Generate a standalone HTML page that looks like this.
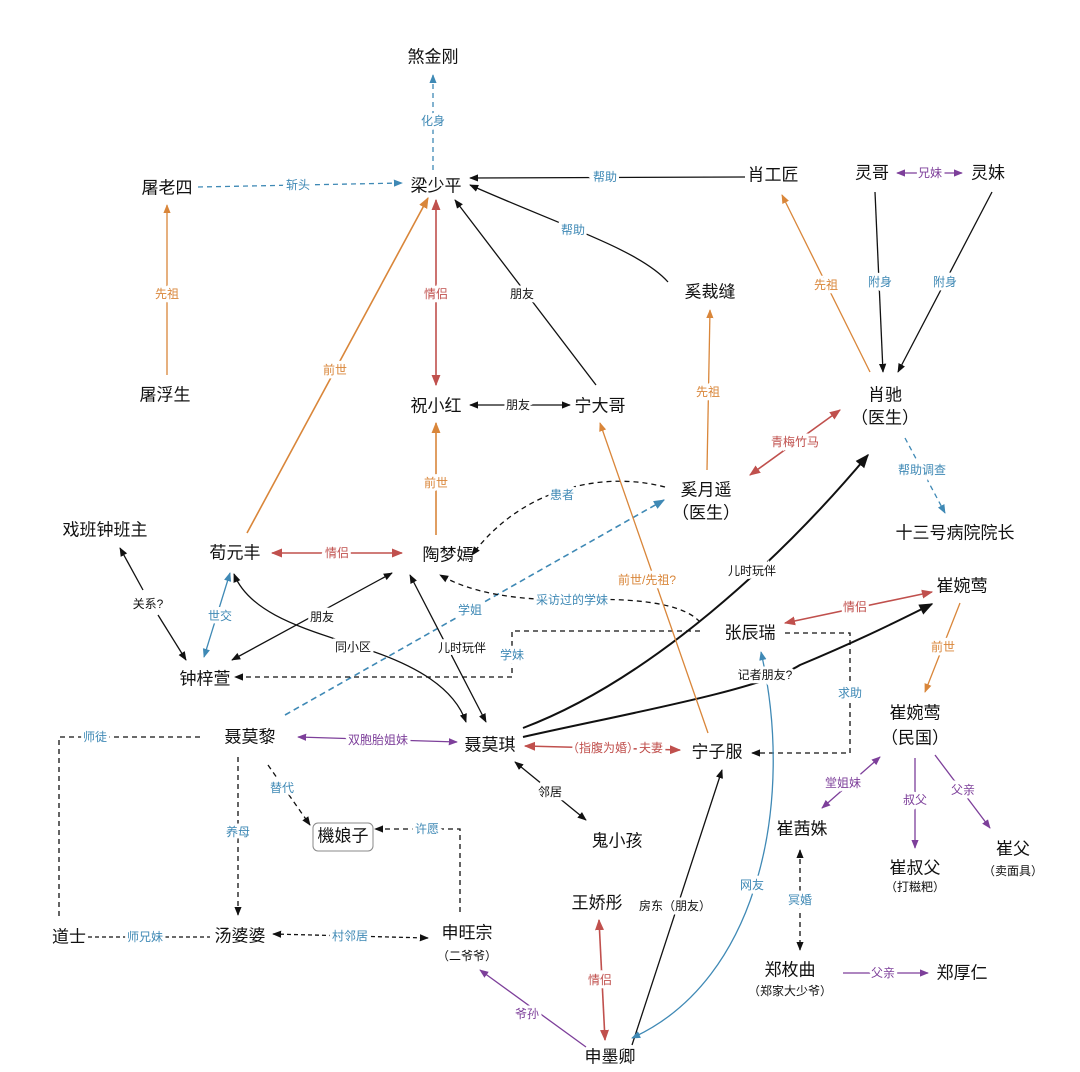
<!DOCTYPE html>
<html><head><meta charset="utf-8"><style>
html,body{margin:0;padding:0;background:#fff;}
svg{display:block;}
text{font-family:"Liberation Sans","Noto Sans CJK SC",sans-serif;}
.n{font-size:17px;fill:#111;text-anchor:middle;dominant-baseline:central;}
.s{font-size:12px;fill:#111;text-anchor:middle;dominant-baseline:central;}
.l{font-size:12px;text-anchor:middle;dominant-baseline:central;}
</style></head><body>
<svg width="1080" height="1072" viewBox="0 0 1080 1072" xmlns="http://www.w3.org/2000/svg">
<defs>
<marker id="k" viewBox="0 0 10 10" refX="9" refY="5" markerWidth="7" markerHeight="7" orient="auto-start-reverse"><path d="M0,1 L10,5 L0,9 z" fill="#111"/></marker>
<marker id="o" viewBox="0 0 10 10" refX="9" refY="5" markerWidth="7" markerHeight="7" orient="auto-start-reverse"><path d="M0,1 L10,5 L0,9 z" fill="#d9863a"/></marker>
<marker id="r" viewBox="0 0 10 10" refX="9" refY="5" markerWidth="7" markerHeight="7" orient="auto-start-reverse"><path d="M0,1 L10,5 L0,9 z" fill="#c0504d"/></marker>
<marker id="b" viewBox="0 0 10 10" refX="9" refY="5" markerWidth="7" markerHeight="7" orient="auto-start-reverse"><path d="M0,1 L10,5 L0,9 z" fill="#3f89b5"/></marker>
<marker id="p" viewBox="0 0 10 10" refX="9" refY="5" markerWidth="7" markerHeight="7" orient="auto-start-reverse"><path d="M0,1 L10,5 L0,9 z" fill="#7d3f9a"/></marker>
</defs>
<g fill="none" stroke-width="1.3">
<!-- blue dashed -->
<path d="M433,170 L433,75" stroke="#3f89b5" stroke-dasharray="5,4" marker-end="url(#b)"/>
<path d="M198,187 L402,183" stroke="#3f89b5" stroke-dasharray="5,4" marker-end="url(#b)"/>
<path d="M905,438 L945,513" stroke="#3f89b5" stroke-dasharray="5,4" marker-end="url(#b)"/>
<path d="M285,715 L664,500" stroke="#3f89b5" stroke-width="1.6" stroke-dasharray="6,4" marker-end="url(#b)"/>
<!-- black -->
<path d="M745,177 L470,178" stroke="#111" marker-end="url(#k)"/>
<path d="M668,282 C640,250 560,225 470,185" stroke="#111" marker-end="url(#k)"/>
<path d="M596,385 L455,200" stroke="#111" marker-end="url(#k)"/>
<path d="M470,405 L570,405" stroke="#111" marker-start="url(#k)" marker-end="url(#k)"/>
<path d="M875,192 L883,372" stroke="#111" marker-end="url(#k)"/>
<path d="M992,192 L898,372" stroke="#111" marker-end="url(#k)"/>
<path d="M143,590 L120,548" stroke="#111" marker-end="url(#k)"/>
<path d="M158,615 L186,660" stroke="#111" marker-end="url(#k)"/>
<path d="M232,660 L392,573" stroke="#111" marker-start="url(#k)" marker-end="url(#k)"/>
<path d="M234,574 C250,615 310,630 353,645 C420,665 455,690 466,722" stroke="#111" marker-start="url(#k)" marker-end="url(#k)"/>
<path d="M486,722 L410,575" stroke="#111" marker-start="url(#k)" marker-end="url(#k)"/>
<path d="M523,728 C650,680 780,560 868,455" stroke="#111" stroke-width="2" marker-end="url(#k)"/>
<path d="M523,737 C620,715 760,690 800,665 C860,640 900,620 932,604" stroke="#111" stroke-width="2" marker-end="url(#k)"/>
<path d="M515,762 L586,820" stroke="#111" marker-start="url(#k)" marker-end="url(#k)"/>
<path d="M632,1045 L722,770" stroke="#111" marker-end="url(#k)"/>
<!-- black dashed -->
<path d="M665,487 C600,470 520,490 472,555" stroke="#111" stroke-dasharray="5,4" marker-end="url(#k)"/>
<path d="M700,622 C680,600 620,598 572,600 C510,600 470,592 440,575" stroke="#111" stroke-dasharray="5,4" marker-end="url(#k)"/>
<path d="M700,631 L512,631 L512,677 L235,677" stroke="#111" stroke-dasharray="5,4" marker-end="url(#k)"/>
<path d="M785,633 L850,633 L850,753 L752,753" stroke="#111" stroke-dasharray="5,4" marker-end="url(#k)"/>
<path d="M238,757 L238,915" stroke="#111" stroke-dasharray="5,4" marker-end="url(#k)"/>
<path d="M268,765 L310,825" stroke="#111" stroke-dasharray="5,4" marker-end="url(#k)"/>
<path d="M200,737 L59,737 L59,918" stroke="#111" stroke-dasharray="5,4"/>
<path d="M88,937 L210,937" stroke="#111" stroke-dasharray="4,3"/>
<path d="M273,934 L428,938" stroke="#111" stroke-dasharray="4,3" marker-start="url(#k)" marker-end="url(#k)"/>
<path d="M460,912 L460,829 L375,829" stroke="#111" stroke-dasharray="5,4" marker-end="url(#k)"/>
<path d="M800,850 L800,950" stroke="#111" stroke-dasharray="5,4" marker-start="url(#k)" marker-end="url(#k)"/>
<!-- orange -->
<path d="M167,375 L167,205" stroke="#d9863a" marker-end="url(#o)"/>
<path d="M247,533 L428,198" stroke="#d9863a" stroke-width="1.6" marker-end="url(#o)"/>
<path d="M436,535 L436,423" stroke="#d9863a" stroke-width="1.6" marker-end="url(#o)"/>
<path d="M870,372 L782,195" stroke="#d9863a" marker-end="url(#o)"/>
<path d="M707,470 L710,310" stroke="#d9863a" marker-end="url(#o)"/>
<path d="M708,733 L600,423" stroke="#d9863a" marker-end="url(#o)"/>
<path d="M960,603 L925,692" stroke="#d9863a" marker-end="url(#o)"/>
<!-- red -->
<path d="M436,200 L436,385" stroke="#c0504d" stroke-width="1.6" marker-start="url(#r)" marker-end="url(#r)"/>
<path d="M750,475 L840,410" stroke="#c0504d" stroke-width="1.6" marker-start="url(#r)" marker-end="url(#r)"/>
<path d="M272,553 L402,553" stroke="#c0504d" stroke-width="1.6" marker-start="url(#r)" marker-end="url(#r)"/>
<path d="M785,623 L932,592" stroke="#c0504d" stroke-width="1.6" marker-start="url(#r)" marker-end="url(#r)"/>
<path d="M525,746 L680,750" stroke="#c0504d" stroke-width="1.6" marker-start="url(#r)" marker-end="url(#r)"/>
<path d="M599,920 L605,1040" stroke="#c0504d" stroke-width="1.6" marker-start="url(#r)" marker-end="url(#r)"/>
<!-- blue solid -->
<path d="M204,657 L230,573" stroke="#3f89b5" marker-start="url(#b)" marker-end="url(#b)"/>
<path d="M632,1038 C760,980 795,800 761,652" stroke="#3f89b5" marker-start="url(#b)" marker-end="url(#b)"/>
<!-- purple -->
<path d="M897,173 L962,173" stroke="#7d3f9a" marker-start="url(#p)" marker-end="url(#p)"/>
<path d="M298,737 L457,742" stroke="#7d3f9a" marker-start="url(#p)" marker-end="url(#p)"/>
<path d="M586,1047 L480,970" stroke="#7d3f9a" marker-end="url(#p)"/>
<path d="M822,808 L880,757" stroke="#7d3f9a" marker-start="url(#p)" marker-end="url(#p)"/>
<path d="M915,758 L915,848" stroke="#7d3f9a" marker-end="url(#p)"/>
<path d="M935,755 L990,828" stroke="#7d3f9a" marker-end="url(#p)"/>
<path d="M843,973 L928,973" stroke="#7d3f9a" marker-end="url(#p)"/>
</g>
<!-- labels with white backgrounds -->
<g stroke="#fff" stroke-width="6" paint-order="stroke">
<text class="l" x="433" y="121" fill="#3f89b5">化身</text>
<text class="l" x="298" y="185" fill="#3f89b5">斩头</text>
<text class="l" x="605" y="177" fill="#3f89b5">帮助</text>
<text class="l" x="573" y="230" fill="#3f89b5">帮助</text>
<text class="s" x="522" y="294">朋友</text>
<text class="l" x="436" y="294" fill="#c0504d">情侣</text>
<text class="s" x="518" y="405">朋友</text>
<text class="l" x="167" y="294" fill="#d9863a">先祖</text>
<text class="l" x="335" y="370" fill="#d9863a">前世</text>
<text class="l" x="436" y="483" fill="#d9863a">前世</text>
<text class="l" x="826" y="285" fill="#d9863a">先祖</text>
<text class="l" x="930" y="173" fill="#7d3f9a">兄妹</text>
<text class="l" x="880" y="282" fill="#3f89b5">附身</text>
<text class="l" x="945" y="282" fill="#3f89b5">附身</text>
<text class="l" x="708" y="392" fill="#d9863a">先祖</text>
<text class="l" x="795" y="442" fill="#c0504d">青梅竹马</text>
<text class="l" x="922" y="470" fill="#3f89b5">帮助调查</text>
<text class="l" x="562" y="495" fill="#3f89b5">患者</text>
<text class="l" x="337" y="553" fill="#c0504d">情侣</text>
<text class="s" x="148" y="604">关系?</text>
<text class="l" x="220" y="616" fill="#3f89b5">世交</text>
<text class="s" x="322" y="617">朋友</text>
<text class="s" x="353" y="647">同小区</text>
<text class="s" x="462" y="648">儿时玩伴</text>
<text class="l" x="572" y="600" fill="#3f89b5">采访过的学妹</text>
<text class="l" x="470" y="610" fill="#3f89b5">学姐</text>
<text class="l" x="512" y="655" fill="#3f89b5">学妹</text>
<text class="s" x="752" y="571">儿时玩伴</text>
<text class="s" x="765" y="675">记者朋友?</text>
<text class="l" x="855" y="607" fill="#c0504d">情侣</text>
<text class="l" x="943" y="647" fill="#d9863a">前世</text>
<text class="l" x="850" y="693" fill="#3f89b5">求助</text>
<text class="l" x="647" y="580" fill="#d9863a">前世/先祖?</text>
<text class="l" x="378" y="740" fill="#7d3f9a">双胞胎姐妹</text>
<text class="l" x="615" y="748" fill="#c0504d">（指腹为婚）夫妻</text>
<text class="s" x="550" y="792">邻居</text>
<text class="l" x="238" y="832" fill="#3f89b5">养母</text>
<text class="l" x="282" y="788" fill="#3f89b5">替代</text>
<text class="l" x="95" y="737" fill="#3f89b5">师徒</text>
<text class="l" x="145" y="937" fill="#3f89b5">师兄妹</text>
<text class="l" x="350" y="936" fill="#3f89b5">村邻居</text>
<text class="l" x="427" y="829" fill="#3f89b5">许愿</text>
<text class="l" x="527" y="1014" fill="#7d3f9a">爷孙</text>
<text class="l" x="600" y="980" fill="#c0504d">情侣</text>
<text class="s" x="675" y="906">房东（朋友）</text>
<text class="l" x="752" y="885" fill="#3f89b5">网友</text>
<text class="l" x="843" y="783" fill="#7d3f9a">堂姐妹</text>
<text class="l" x="915" y="800" fill="#7d3f9a">叔父</text>
<text class="l" x="963" y="790" fill="#7d3f9a">父亲</text>
<text class="l" x="800" y="900" fill="#3f89b5">冥婚</text>
<text class="l" x="883" y="973" fill="#7d3f9a">父亲</text>
</g>
<rect x="313" y="823" width="60" height="28" rx="5" fill="#fff" stroke="#888"/>
<g>
<text class="n" x="433" y="57">煞金刚</text>
<text class="n" x="436" y="186">梁少平</text>
<text class="n" x="167" y="188">屠老四</text>
<text class="n" x="773" y="175">肖工匠</text>
<text class="n" x="872" y="173">灵哥</text>
<text class="n" x="988" y="173">灵妹</text>
<text class="n" x="710" y="292">奚裁缝</text>
<text class="n" x="165" y="395">屠浮生</text>
<text class="n" x="436" y="406">祝小红</text>
<text class="n" x="600" y="406">宁大哥</text>
<text class="n" x="885" y="395">肖驰</text>
<text class="n" x="885" y="418">（医生）</text>
<text class="n" x="706" y="490">奚月遥</text>
<text class="n" x="706" y="513">（医生）</text>
<text class="n" x="955" y="533">十三号病院院长</text>
<text class="n" x="105" y="530">戏班钟班主</text>
<text class="n" x="235" y="553">荀元丰</text>
<text class="n" x="448" y="555">陶梦嫣</text>
<text class="n" x="962" y="586">崔婉莺</text>
<text class="n" x="750" y="633">张辰瑞</text>
<text class="n" x="205" y="679">钟梓萱</text>
<text class="n" x="915" y="713">崔婉莺</text>
<text class="n" x="915" y="738">（民国）</text>
<text class="n" x="250" y="737">聂莫黎</text>
<text class="n" x="490" y="745">聂莫琪</text>
<text class="n" x="717" y="752">宁子服</text>
<text class="n" x="343" y="836">機娘子</text>
<text class="n" x="617" y="841">鬼小孩</text>
<text class="n" x="802" y="829">崔茜姝</text>
<text class="n" x="915" y="868">崔叔父</text>
<text class="s" x="915" y="887">（打糍粑）</text>
<text class="n" x="1013" y="849">崔父</text>
<text class="s" x="1013" y="871">（卖面具）</text>
<text class="n" x="597" y="903">王娇彤</text>
<text class="n" x="69" y="937">道士</text>
<text class="n" x="240" y="936">汤婆婆</text>
<text class="n" x="467" y="933">申旺宗</text>
<text class="s" x="467" y="956">（二爷爷）</text>
<text class="n" x="790" y="970">郑枚曲</text>
<text class="s" x="790" y="991">（郑家大少爷）</text>
<text class="n" x="962" y="973">郑厚仁</text>
<text class="n" x="610" y="1057">申墨卿</text>
</g>
</svg>
</body></html>
